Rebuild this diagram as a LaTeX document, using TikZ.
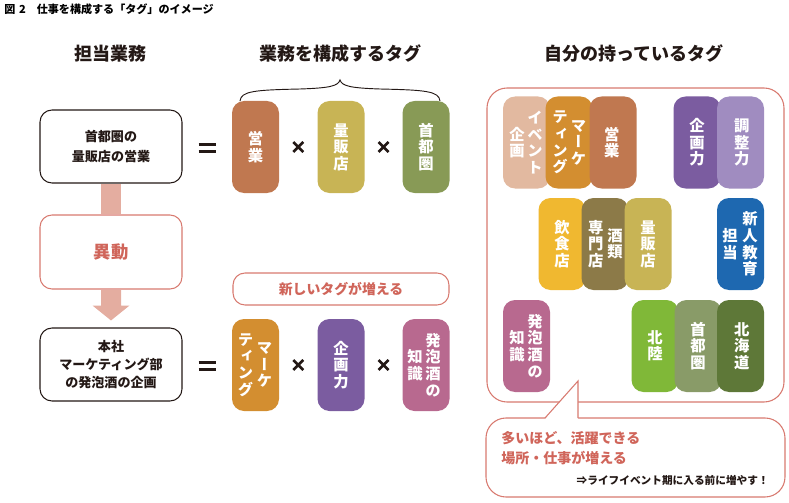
\documentclass[tikz,border=0pt]{standalone}
\usepackage{fontspec}
\setmainfont{Noto Sans CJK JP}
\newfontfamily\vfont[RawFeature=+vert]{Noto Sans CJK JP}
\usetikzlibrary{calc}
\definecolor{ink}{RGB}{35,24,21}
\definecolor{cEigyo}{RGB}{192,120,80}
\definecolor{cRyohan}{RGB}{200,180,85}
\definecolor{cShuto}{RGB}{136,154,86}
\definecolor{cShutoB}{RGB}{137,155,104}
\definecolor{cMarket}{RGB}{211,142,48}
\definecolor{cKikaku}{RGB}{123,92,160}
\definecolor{cHappo}{RGB}{184,105,143}
\definecolor{cEvent}{RGB}{226,185,160}
\definecolor{cChosei}{RGB}{160,140,192}
\definecolor{cInshoku}{RGB}{240,184,48}
\definecolor{cSake}{RGB}{140,122,72}
\definecolor{cShinjin}{RGB}{30,104,176}
\definecolor{cHokuriku}{RGB}{128,184,56}
\definecolor{cHokkaido}{RGB}{94,120,56}
\definecolor{redtxt}{RGB}{208,101,90}
\definecolor{redline}{RGB}{216,122,112}
\definecolor{arrowpink}{RGB}{228,173,160}
\begin{document}
\begin{tikzpicture}[x=0.75pt,y=-0.75pt,
  tagbox/.style={rectangle,rounded corners=9pt,minimum width=35.25pt,minimum height=69pt,inner sep=0pt,draw=none},
  vtxt/.style={text=white,align=center,inner sep=0pt,font=\vfont\bfseries\fontsize{11.5}{12.4}\selectfont},
  lbox/.style={rectangle,rounded corners=9pt,minimum width=106.5pt,minimum height=54.75pt,draw=ink,line width=0.8pt,fill=white,align=center,text=ink,font=\bfseries\fontsize{9.8}{14.5}\selectfont},
  header/.style={text=ink,inner sep=0pt,font=\bfseries\fontsize{13.5}{16}\selectfont},
  xmark/.style={draw=ink,line width=1.9pt},
  eqmark/.style={draw=ink,line width=2.2pt},
  redbox/.style={rectangle,draw=redline,line width=0.8pt,fill=white},
]
\useasboundingbox (0,0) rectangle (789,503);

% title and headers
\node[anchor=west,inner sep=0pt,text=black,font=\bfseries\fontsize{8.3}{9}\selectfont] (title) at (4,9) {図\,\,2　仕事を構成する「タグ」のイメージ};
\node[header] (h1) at (110,54) {担当業務};
\node[header] (h2) at (340,54) {業務を構成するタグ};
\node[header] (h3) at (634,54) {自分の持っているタグ};

% brace
\draw[ink,line width=0.7pt] (240,101) .. controls (241,91) and (255,90) .. (300,89)
  .. controls (330,88) and (338,86) .. (340,80)
  .. controls (342,86) and (350,88) .. (380,89)
  .. controls (425,90) and (439,91) .. (440,101);

% left boxes
\node[lbox] (box1) at (111,146.5) {首都圏の\\量販店の営業};
\node[lbox,draw=redline,text=redtxt,font=\bfseries\fontsize{13}{15}\selectfont,minimum height=55.5pt] (box2) at (111,252) {異動};
\node[lbox,font=\bfseries\fontsize{9.8}{13.8}\selectfont] (box3) at (111,364.5) {本社\\マーケティング部\\の発泡酒の企画};

% arrows
\fill[arrowpink] ($(box1.south)+(-10,0.6)$) rectangle ($(box2.north)+(10,-0.6)$);
\fill[arrowpink] ($(box2.south)+(-10,0.6)$) -- ($(box2.south)+(10,0.6)$) -- ($(box2.south)+(10,16)$)
  -- ($(box2.south)+(18.5,16)$) -- ($(box3.north)+(0,-7)$) -- ($(box2.south)+(-18.5,16)$)
  -- ($(box2.south)+(-10,16)$) -- cycle;

% middle tags, top
\node[tagbox,fill=cEigyo] (m1) at (255.5,147) {};
\node[tagbox,fill=cRyohan] (m2) at (341,147) {};
\node[tagbox,fill=cShuto] (m3) at (426,147) {};
\node[vtxt] (m1t) at (m1) {営\\業};
\node[vtxt] (m2t) at (m2) {量\\販\\店};
\node[vtxt] (m3t) at (m3) {首\\都\\圏};

% new tags label
\node[redbox,rounded corners=9pt,minimum width=162pt,minimum height=24pt,text=redtxt,font=\bfseries\fontsize{10.4}{12}\selectfont] (newtag) at (341,289) {新しいタグが増える};

% middle tags, bottom
\node[tagbox,fill=cMarket] (b1) at (255.5,365) {};
\node[tagbox,fill=cKikaku] (b2) at (341,365) {};
\node[tagbox,fill=cHappo] (b3) at (426,365) {};
\node[vtxt] (b1r) at ($(b1)+(9,0)$) {マ\\ー\\ケ};
\node[vtxt] (b1l) at ($(b1)+(-10,0)$) {テ\\ィ\\ン\\グ};
\node[vtxt] (b2t) at (b2) {企\\画\\力};
\node[vtxt] (b3r) at ($(b3)+(7,0)$) {発\\泡\\酒\\の};
\node[vtxt] (b3l) at ($(b3)+(-11,0)$) {知\\識};

% equal signs
\coordinate (e1) at ($(box1.east)!0.5!(m1.west)$);
\coordinate (e2) at ($(box3.east)!0.5!(b1.west)$);
\foreach \e in {e1,e2}{
  \draw[eqmark] ($(\e)+(-8.5,-2)$) -- ($(\e)+(8.5,-2)$);
  \draw[eqmark] ($(\e)+(-8.5,5)$) -- ($(\e)+(8.5,5)$);
}
% times signs
\coordinate (x1) at ($(m1.east)!0.5!(m2.west)$);
\coordinate (x2) at ($(m2.east)!0.5!(m3.west)$);
\coordinate (x3) at ($(b1.east)!0.5!(b2.west)$);
\coordinate (x4) at ($(b2.east)!0.5!(b3.west)$);
\foreach \c in {x1,x2,x3,x4}{
  \draw[xmark] ($(\c)+(-5,-5)$) -- ($(\c)+(5,5)$) ($(\c)+(-5,5)$) -- ($(\c)+(5,-5)$);
}

% right panel
\node[redbox,rounded corners=15pt,minimum width=222.75pt,minimum height=235.5pt] (panel) at (635.5,245) {};

% row 1
\node[tagbox,fill=cEvent] (r1) at (526.5,142.5) {};
\node[tagbox,fill=cMarket] (r2) at (569,142.5) {};
\node[tagbox,fill=cEigyo] (r3) at (613,142.5) {};
\node[tagbox,fill=cKikaku] (r4) at (697,142.5) {};
\node[tagbox,fill=cChosei] (r5) at (740.5,142.5) {};
\node[vtxt] (r1r) at (535,142.5) {イ\\ベ\\ン\\ト};
\node[vtxt] (r1l) at (517,142.5) {企\\画};
\node[vtxt] (r2r) at (578.5,142.5) {マ\\ー\\ケ};
\node[vtxt] (r2l) at (560,142.5) {テ\\ィ\\ン\\グ};
\node[vtxt] (r3t) at (611.7,142.5) {営\\業};
\node[vtxt] (r4t) at (697,142.5) {企\\画\\力};
\node[vtxt] (r5t) at (741.7,142.5) {調\\整\\力};

% row 2
\node[tagbox,fill=cInshoku] (r6) at (562,244) {};
\node[tagbox,fill=cSake] (r7) at (605,244) {};
\node[tagbox,fill=cRyohan] (r8) at (648,244) {};
\node[tagbox,fill=cShinjin] (r9) at (740.5,244) {};
\node[vtxt] (r6t) at (562,244) {飲\\食\\店};
\node[vtxt] (r7r) at (615,244) {酒\\類};
\node[vtxt] (r7l) at (595.7,244) {専\\門\\店};
\node[vtxt] (r8t) at (648,244) {量\\販\\店};
\node[vtxt] (r9r) at (750,244) {新\\人\\教\\育};
\node[vtxt] (r9l) at (730,244) {担\\当};

% row 3
\node[tagbox,fill=cHappo] (r10) at (526.5,346) {};
\node[tagbox,fill=cHokuriku] (r11) at (655,346) {};
\node[tagbox,fill=cShutoB] (r12) at (698,346) {};
\node[tagbox,fill=cHokkaido] (r13) at (740.5,346) {};
\node[vtxt] (r10r) at (535,346) {発\\泡\\酒\\の};
\node[vtxt] (r10l) at (517,346) {知\\識};
\node[vtxt] (r11t) at (655,346) {北\\陸};
\node[vtxt] (r12t) at (698,346) {首\\都\\圏};
\node[vtxt] (r13t) at (741.7,346) {北\\海\\道};

% callout bubble
\node[redbox,rounded corners=15pt,minimum width=224.25pt,minimum height=59.25pt] (bubble) at (635.5,457.5) {};
\coordinate (tailL) at (545,418);
\coordinate (tailTip) at (578,381);
\coordinate (tailR) at (578,418);
\fill[white] ($(tailL)+(0,1.2)$) -- (tailTip) -- ($(tailR)+(0,1.2)$) -- cycle;
\draw[redline,line width=0.8pt] (tailL) -- (tailTip) -- (tailR);

\node[anchor=west,inner sep=0pt,align=left,text=redtxt,font=\bfseries\fontsize{10.5}{15}\selectfont] (btxt) at (501,448) {多いほど、活躍できる\\場所・仕事が増える};
\node[anchor=east,inner sep=0pt,text=ink,font=\bfseries\fontsize{8}{10}\selectfont] (note) at (769,480) {⇒ライフイベント期に入る前に増やす！};
\end{tikzpicture}
\end{document}
